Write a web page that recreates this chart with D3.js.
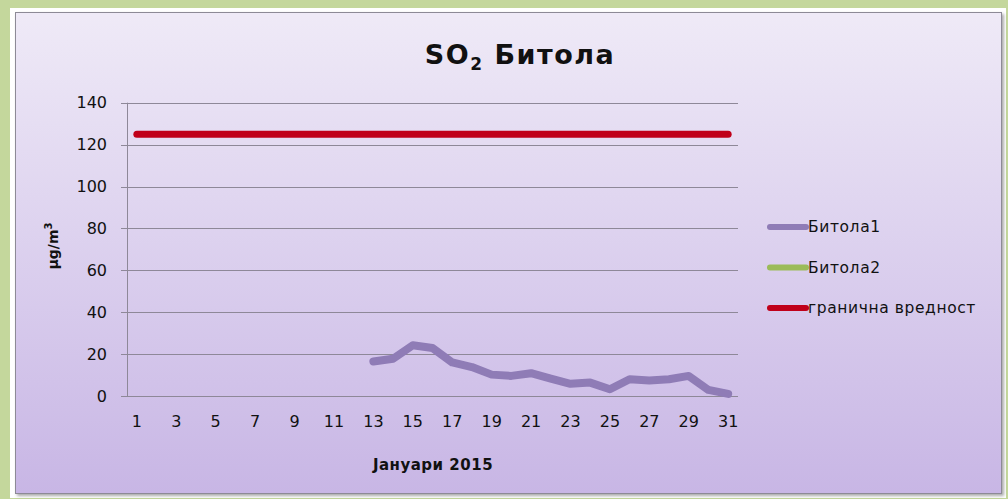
<!DOCTYPE html>
<html>
<head>
<meta charset="utf-8">
<script src="https://cdn.jsdelivr.net/npm/d3@7"></script>
<style>
  body { margin: 0; background: #c4d79c; }
  svg { display: block; }
  text { font-family: "DejaVu Sans", sans-serif; fill: #111; }
  .tick text { font-size: 16px; }
  .grid line { stroke: #8e8898; stroke-width: 1; }
  .legend-text { font-size: 15.5px; letter-spacing: 0.6px; }
</style>
</head>
<body>
<script>
// days of January 2015
var days = d3.range(1, 32);
var tick_days = [1, 3, 5, 7, 9, 11, 13, 15, 17, 19, 21, 23, 25, 27, 29, 31];
var y_ticks = [0, 20, 40, 60, 80, 100, 120, 140];

var bitola1_days = [13, 14, 15, 16, 17, 18, 19, 20, 21, 22, 23, 24, 25, 26, 27, 28, 29, 30, 31];
var bitola1_vals = [16.5, 17.8, 24.2, 22.9, 16, 13.8, 10.2, 9.6, 10.9, 8.3, 5.8, 6.4, 3.2, 8, 7.4, 8, 9.6, 2.9, 1];

// Битола2 has no data
var bitola2_days = [];
var bitola2_vals = [];

// limit value
var limit_val = 125;

var series = [
  {name: "Битола1", color: "#8f7cb6", days: bitola1_days, vals: bitola1_vals},
  {name: "Битола2", color: "#9bbb59", days: bitola2_days, vals: bitola2_vals},
  {name: "гранична вредност", color: "#c0001a", days: days, vals: days.map(function(){ return limit_val; })}
];

var width = 1008, height = 499;
var plot = {left: 127, right: 738, top: 102.7, bottom: 396};

var svg = d3.select("body").append("svg")
    .attr("width", width)
    .attr("height", height);

var defs = svg.append("defs");
var grad = defs.append("linearGradient")
    .attr("id", "bg")
    .attr("x1", 0).attr("y1", 0).attr("x2", 0).attr("y2", 1);
grad.append("stop").attr("offset", "0%").attr("stop-color", "#efeaf7");
grad.append("stop").attr("offset", "100%").attr("stop-color", "#c8b6e5");

var shadow = defs.append("filter").attr("id", "shadow")
    .attr("x", "-5%").attr("y", "-5%").attr("width", "110%").attr("height", "110%");
shadow.append("feDropShadow").attr("dx", 2).attr("dy", 2).attr("stdDeviation", 1.5)
    .attr("flood-color", "#555").attr("flood-opacity", 0.5);

// white frame
svg.append("rect")
    .attr("x", 10).attr("y", 8)
    .attr("width", 996).attr("height", 490)
    .attr("fill", "#ffffff");

// chart area
svg.append("rect")
    .attr("x", 15.5).attr("y", 12.5)
    .attr("width", 986).attr("height", 481)
    .attr("fill", "url(#bg)")
    .attr("stroke", "#8d8a96")
    .attr("stroke-width", 1)
    .attr("filter", "url(#shadow)");

var x = d3.scaleBand()
    .domain(days)
    .range([plot.left, plot.right]);

var y = d3.scaleLinear()
    .domain([0, 140])
    .range([plot.bottom, plot.top]);

function cx(d){ return x(d) + x.bandwidth() / 2; }

// gridlines + y axis
var yAxis = d3.axisLeft(y)
    .tickValues(y_ticks)
    .tickSize(-(plot.right - plot.left))
    .tickPadding(20)
    .tickFormat(d3.format("d"));

var gy = svg.append("g")
    .attr("class", "grid")
    .attr("transform", "translate(" + plot.left + ",0)")
    .call(yAxis);
gy.select(".domain").remove();
gy.selectAll(".tick line")
    .attr("x1", -6)
    .attr("shape-rendering", "crispEdges");
gy.selectAll(".tick text").attr("x", -20);

// vertical axis line
svg.append("line")
    .attr("x1", plot.left + 0.5).attr("x2", plot.left + 0.5)
    .attr("y1", plot.top).attr("y2", plot.bottom)
    .attr("stroke", "#8e8898");

// x axis labels
var xAxis = d3.axisBottom(x)
    .tickValues(tick_days)
    .tickSize(0)
    .tickPadding(20);

var gx = svg.append("g")
    .attr("transform", "translate(0," + plot.bottom + ")")
    .call(xAxis);
gx.select(".domain").remove();

// series lines
var line = d3.line()
    .x(function(d){ return cx(d[0]); })
    .y(function(d){ return y(d[1]); });

series.forEach(function(s){
  if (!s.days.length) return;
  var pts = s.days.map(function(d, i){ return [d, s.vals[i]]; });
  svg.append("path")
      .datum(pts)
      .attr("fill", "none")
      .attr("stroke", s.color)
      .attr("stroke-width", s.name == "гранична вредност" ? 7 : 8)
      .attr("stroke-linejoin", "round")
      .attr("stroke-linecap", "round")
      .attr("d", line);
});

// title
var title = svg.append("text")
    .attr("x", 520)
    .attr("y", 64)
    .attr("text-anchor", "middle")
    .style("font-size", "27px")
    .style("letter-spacing", "1.5px")
    .style("font-weight", "bold");
title.append("tspan").text("SO");
title.append("tspan").attr("dy", 6).style("font-size", "17px").text("2");
title.append("tspan").attr("dy", -6).text(" Битола");

// y axis title
var ytitle = svg.append("text")
    .attr("transform", "translate(58,246) rotate(-90)")
    .attr("text-anchor", "middle")
    .style("font-size", "14px")
    .style("font-weight", "bold");
ytitle.append("tspan").text("µg/m");
ytitle.append("tspan").attr("dy", -6).style("font-size", "10px").text("3");

// x axis title
svg.append("text")
    .attr("x", 433)
    .attr("y", 470)
    .attr("text-anchor", "middle")
    .style("font-size", "15px")
    .style("letter-spacing", "0.5px")
    .style("font-weight", "bold")
    .text("Јануари 2015");

// legend
var legend = svg.selectAll(".legend")
    .data(series)
  .enter().append("g")
    .attr("class", "legend")
    .attr("transform", function(d, i){ return "translate(770," + (227 + i * 40.5) + ")"; });

legend.append("line")
    .attr("x1", 0).attr("x2", 36)
    .attr("stroke", function(d){ return d.color; })
    .attr("stroke-width", 6)
    .attr("stroke-linecap", "round");

legend.append("text")
    .attr("class", "legend-text")
    .attr("x", 38)
    .attr("dy", "0.35em")
    .text(function(d){ return d.name; });
</script>
</body>
</html>
